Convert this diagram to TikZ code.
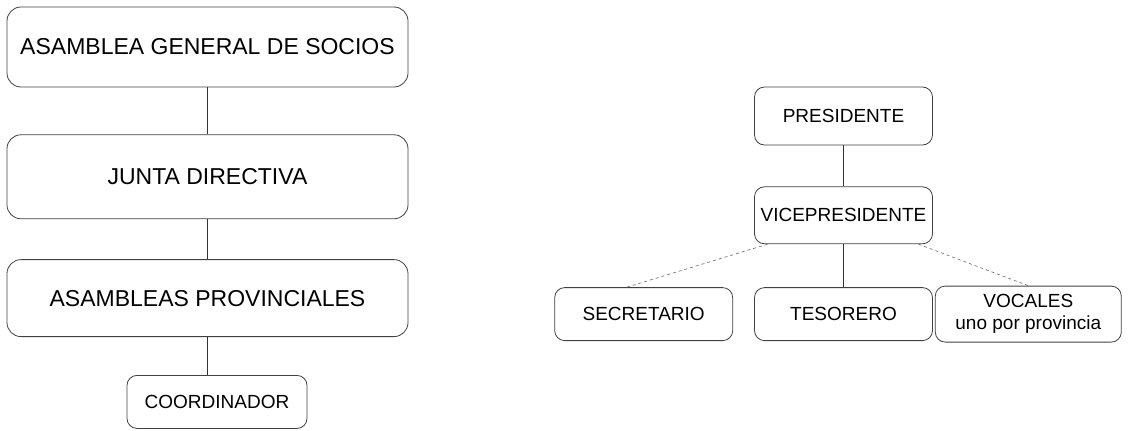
\documentclass[tikz,border=0pt]{standalone}
\usepackage{fontspec}
\setmainfont{Liberation Sans}
\usetikzlibrary{positioning}

\tikzset{
    cargo/.style={draw=black!75, line width=0.8pt, rounded corners=14pt, align=center,
        inner sep=0pt, minimum width=401pt, font=\fontsize{23}{26}\selectfont},
    cargochico/.style={draw=black!75, line width=0.8pt, rounded corners=10pt, align=center,
        inner sep=0pt, minimum width=178pt, minimum height=54pt, font=\fontsize{19}{22}\selectfont},
    enlace/.style={draw=black!80, line width=0.7pt},
    enlacediag/.style={draw=black!60, line width=0.6pt, dashed},
}

\begin{document}
\begin{tikzpicture}[x=1pt,y=-1pt]
\useasboundingbox (0,0) rectangle (1130,431);

\node[cargo, minimum height=80pt] (socios) at (207.5,47) {ASAMBLEA GENERAL DE SOCIOS};
\node[cargo, minimum height=84pt] (junta) [below=47pt of socios] {JUNTA DIRECTIVA};
\node[cargo, minimum height=77pt] (provincias) [below=40pt of junta] {ASAMBLEAS PROVINCIALES};
\node[cargochico, minimum width=180pt, minimum height=53pt] (coord) [below=38pt of provincias, xshift=9.5pt] {COORDINADOR};

\node[cargochico, minimum height=58pt] (pres) at (843.5,116) {PRESIDENTE};
\node[cargochico, minimum height=57pt] (vice) [below=41pt of pres] {VICEPRESIDENTE};
\node[cargochico, minimum height=53pt] (tesorero) [below=43pt of vice] {TESORERO};
\node[cargochico, minimum height=53pt] (secretario) [left=21pt of tesorero] {SECRETARIO};
\node[cargochico, minimum width=186pt, minimum height=56pt] (vocales) [right=2pt of tesorero] {VOCALES\\uno por provincia};

\draw[enlace] (socios) -- (junta);
\draw[enlace] (junta) -- (provincias);
\draw[enlace] (provincias.south) -- (provincias.south |- coord.north);

\draw[enlace] (pres) -- (vice);
\draw[enlace] (vice) -- (tesorero);
\draw[enlacediag] ([xshift=-76pt]vice.south) -- ([xshift=-17pt]secretario.north);
\draw[enlacediag] ([xshift=75pt]vice.south) -- (vocales.north);
\end{tikzpicture}
\end{document}
